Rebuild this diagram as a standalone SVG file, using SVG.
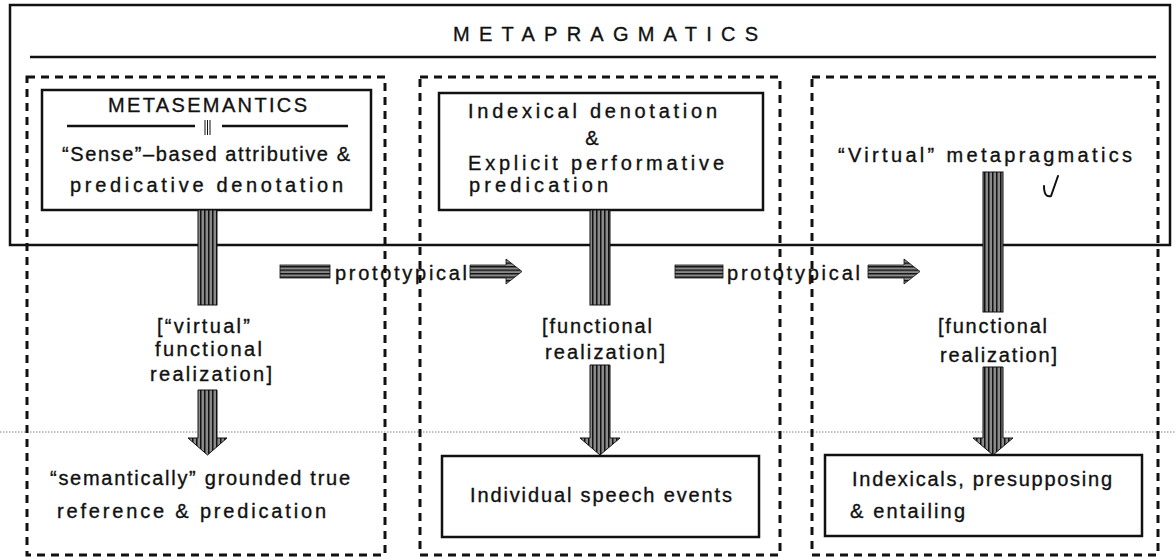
<svg xmlns="http://www.w3.org/2000/svg" width="1176" height="559" viewBox="0 0 1176 559">
<defs>
<pattern id="vs" width="4" height="10" patternUnits="userSpaceOnUse"><rect width="4" height="10" fill="#8a8a8a"/><rect x="0" width="1.5" height="10" fill="#111"/></pattern>
<pattern id="hs" width="10" height="3.5" patternUnits="userSpaceOnUse"><rect width="10" height="3.5" fill="#8a8a8a"/><rect y="0" width="10" height="1.4" fill="#111"/></pattern>
<style>
text{font-family:"Liberation Sans",Arial,sans-serif;fill:#111;font-size:20px;stroke:#111;stroke-width:0.35}
.solid{fill:none;stroke:#111;stroke-width:2.5}
.dash{fill:none;stroke:#111;stroke-width:3;stroke-dasharray:8 6}
.va{fill:url(#vs);stroke:#111;stroke-width:1}
.ha{fill:url(#hs);stroke:#111;stroke-width:0.8}
</style>
</defs>
<rect width="1176" height="559" fill="#fff"/>
<line x1="0" y1="432" x2="1176" y2="432" stroke="#666" stroke-width="0.8" stroke-dasharray="1.5 1.5"/>

<g id="metapragmatics">
<rect x="10" y="5" width="1160" height="240" class="solid" stroke-width="2"/>
<text x="453" y="41" font-size="21" textLength="305" lengthAdjust="spacing">METAPRAGMATICS</text>
<line x1="30" y1="57" x2="1156" y2="57" stroke="#111" stroke-width="2.5"/>
</g>

<g id="column1">
<rect x="27" y="77" width="358" height="478" class="dash"/>
</g>
<g id="column2">
<rect x="420" y="77" width="360" height="478" class="dash"/>
</g>
<g id="column3">
<rect x="812" y="77" width="346" height="478" class="dash"/>
</g>

<g id="metasemantics">
<rect x="42" y="90" width="329" height="120" class="solid"/>
<text x="108" y="112" font-size="20" textLength="199" lengthAdjust="spacing">METASEMANTICS</text>
<line x1="67" y1="126" x2="195" y2="126" stroke="#111" stroke-width="2.5"/>
<line x1="222" y1="126" x2="348" y2="126" stroke="#111" stroke-width="2.5"/>
<line x1="205" y1="120" x2="205" y2="135" stroke="#111" stroke-width="1"/>
<line x1="207.5" y1="120" x2="207.5" y2="135" stroke="#111" stroke-width="1"/>
<line x1="210" y1="120" x2="210" y2="135" stroke="#111" stroke-width="1"/>
<text x="62" y="161" textLength="288" lengthAdjust="spacing">“Sense”–based attributive &amp;</text>
<text x="70" y="192" textLength="273" lengthAdjust="spacing">predicative denotation</text>
</g>

<g id="indexical-denotation">
<rect x="439" y="93" width="324" height="117" class="solid"/>
<text x="468" y="118" textLength="249" lengthAdjust="spacing">Indexical denotation</text>
<text x="592" y="145" text-anchor="middle">&amp;</text>
<text x="468" y="170" textLength="256" lengthAdjust="spacing">Explicit performative</text>
<text x="469" y="192" textLength="139" lengthAdjust="spacing">predication</text>
</g>

<g id="virtual-metapragmatics">
<text x="838" y="162" textLength="294" lengthAdjust="spacing">“Virtual” metapragmatics</text>
<path d="M1044,186 Q1044,198 1051,196 L1058,176" fill="none" stroke="#111" stroke-width="2" stroke-linecap="round"/>
</g>

<g id="semantic-reference">
<text x="50" y="485" textLength="300" lengthAdjust="spacing">“semantically” grounded true</text>
<text x="57" y="518" textLength="269" lengthAdjust="spacing">reference &amp; predication</text>
</g>

<g id="speech-events">
<rect x="442" y="456" width="317" height="81" class="solid"/>
<text x="470" y="502" textLength="262" lengthAdjust="spacing">Individual speech events</text>
</g>

<g id="indexicals">
<rect x="825" y="455" width="317" height="81" class="solid"/>
<text x="852" y="486" textLength="260" lengthAdjust="spacing">Indexicals, presupposing</text>
<text x="850" y="518" textLength="115" lengthAdjust="spacing">&amp; entailing</text>
</g>

<g id="connectors">
<rect x="198" y="210" width="19" height="95" class="va"/>
<text x="157" y="333" textLength="93" lengthAdjust="spacing">[“virtual”</text>
<text x="155" y="356" textLength="107" lengthAdjust="spacing">functional</text>
<text x="150" y="381" textLength="122" lengthAdjust="spacing">realization]</text>
<path d="M198,390 H217 V438 H227 L207.5,455 L188,438 H198 Z" class="va"/>
<rect x="590" y="210" width="20" height="95" class="va"/>
<text x="542" y="333" textLength="110" lengthAdjust="spacing">[functional</text>
<text x="545" y="359" textLength="120" lengthAdjust="spacing">realization]</text>
<path d="M590,365 H610 V438 H620 L600,455 L580,438 H590 Z" class="va"/>
<rect x="983" y="172" width="20" height="140" class="va"/>
<text x="938" y="333" textLength="109" lengthAdjust="spacing">[functional</text>
<text x="940" y="362" textLength="117" lengthAdjust="spacing">realization]</text>
<path d="M983,367 H1003 V438 H1013 L993,455 L973,438 H983 Z" class="va"/>
<rect x="280" y="265" width="50" height="13" class="ha"/>
<text x="335" y="280" textLength="132" lengthAdjust="spacing">prototypical</text>
<path d="M470,265 H506 V259 L522,271.5 L506,284 V278 H470 Z" class="ha"/>
<rect x="675" y="265" width="48" height="13" class="ha"/>
<text x="727" y="280" textLength="133" lengthAdjust="spacing">prototypical</text>
<path d="M868,265 H904 V259 L920,271.5 L904,284 V278 H868 Z" class="ha"/>
</g>
</svg>
